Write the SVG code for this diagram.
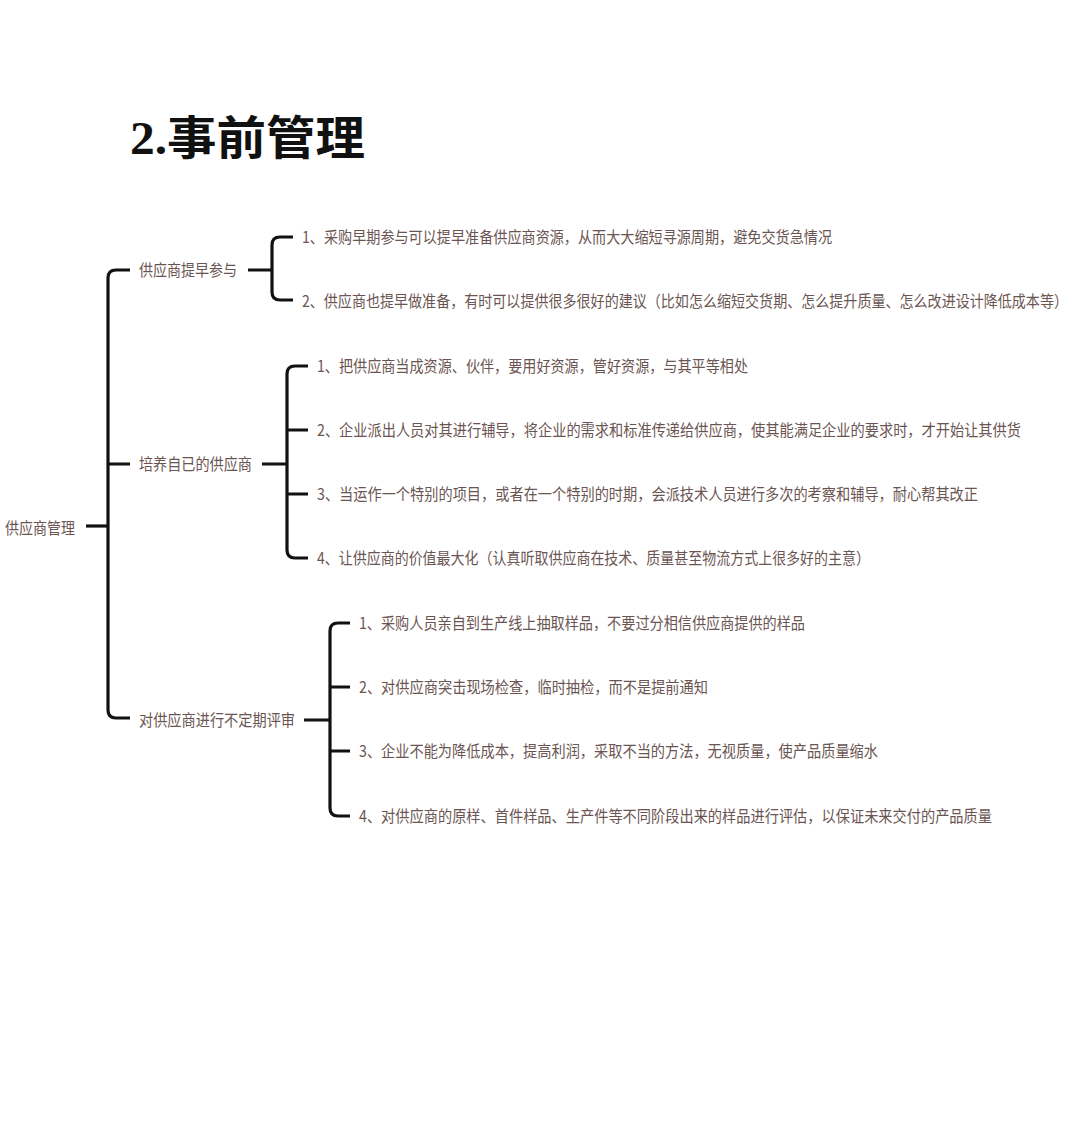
<svg xmlns="http://www.w3.org/2000/svg" width="1080" height="1134" viewBox="0 0 1080 1134">
<style>
.t{font-family:"Noto Sans CJK SC","Noto Sans",sans-serif;font-size:16px;fill:#6b5552}
.c{fill:none;stroke:#111;stroke-width:3.2;stroke-linecap:butt}
</style>
<rect width="1080" height="1134" fill="#fff"/>
<text x="130" y="154" font-family="'Liberation Serif','Noto Sans CJK SC',serif" font-weight="bold" font-size="46" fill="#111" textLength="235" lengthAdjust="spacingAndGlyphs">2.事前管理</text>
<g id="connectors">
<path class="c" d="M86 526H108"/>
<path class="c" d="M130 270H116Q108 270 108 278V710Q108 718 116 718H130M108 464H130"/>
<path class="c" d="M248 270H272M293 237H280Q272 237 272 245V292Q272 300 280 300H293"/>
<path class="c" d="M262 464H287M308 366H295Q287 366 287 374V550Q287 558 295 558H308M287 430H308M287 494H308"/>
<path class="c" d="M304 720H330M350 623H338Q330 623 330 631V808Q330 816 338 816H350M330 687H350M330 751H350"/>
</g>
<g id="root"><text class="t" x="5" y="534" textLength="70" lengthAdjust="spacingAndGlyphs">供应商管理</text></g>
<g id="n1"><text class="t" x="139" y="276" textLength="98" lengthAdjust="spacingAndGlyphs">供应商提早参与</text></g>
<g id="n2"><text class="t" x="139" y="470" textLength="113" lengthAdjust="spacingAndGlyphs">培养自已的供应商</text></g>
<g id="n3"><text class="t" x="139" y="726" textLength="156" lengthAdjust="spacingAndGlyphs">对供应商进行不定期评审</text></g>
<g id="n1a"><text class="t" x="302" y="243" textLength="530" lengthAdjust="spacingAndGlyphs">1、采购早期参与可以提早准备供应商资源，从而大大缩短寻源周期，避免交货急情况</text></g>
<g id="n1b"><text class="t" x="302" y="307" textLength="766" lengthAdjust="spacingAndGlyphs">2、供应商也提早做准备，有时可以提供很多很好的建议（比如怎么缩短交货期、怎么提升质量、怎么改进设计降低成本等）</text></g>
<g id="n2a"><text class="t" x="317" y="372" textLength="431" lengthAdjust="spacingAndGlyphs">1、把供应商当成资源、伙伴，要用好资源，管好资源，与其平等相处</text></g>
<g id="n2b"><text class="t" x="317" y="436" textLength="704" lengthAdjust="spacingAndGlyphs">2、企业派出人员对其进行辅导，将企业的需求和标准传递给供应商，使其能满足企业的要求时，才开始让其供货</text></g>
<g id="n2c"><text class="t" x="317" y="500" textLength="661" lengthAdjust="spacingAndGlyphs">3、当运作一个特别的项目，或者在一个特别的时期，会派技术人员进行多次的考察和辅导，耐心帮其改正</text></g>
<g id="n2d"><text class="t" x="317" y="564" textLength="553" lengthAdjust="spacingAndGlyphs">4、让供应商的价值最大化（认真听取供应商在技术、质量甚至物流方式上很多好的主意）</text></g>
<g id="n3a"><text class="t" x="359" y="629" textLength="446" lengthAdjust="spacingAndGlyphs">1、采购人员亲自到生产线上抽取样品，不要过分相信供应商提供的样品</text></g>
<g id="n3b"><text class="t" x="359" y="693" textLength="349" lengthAdjust="spacingAndGlyphs">2、对供应商突击现场检查，临时抽检，而不是提前通知</text></g>
<g id="n3c"><text class="t" x="359" y="757" textLength="519" lengthAdjust="spacingAndGlyphs">3、企业不能为降低成本，提高利润，采取不当的方法，无视质量，使产品质量缩水</text></g>
<g id="n3d"><text class="t" x="359" y="822" textLength="633" lengthAdjust="spacingAndGlyphs">4、对供应商的原样、首件样品、生产件等不同阶段出来的样品进行评估，以保证未来交付的产品质量</text></g>
</svg>
